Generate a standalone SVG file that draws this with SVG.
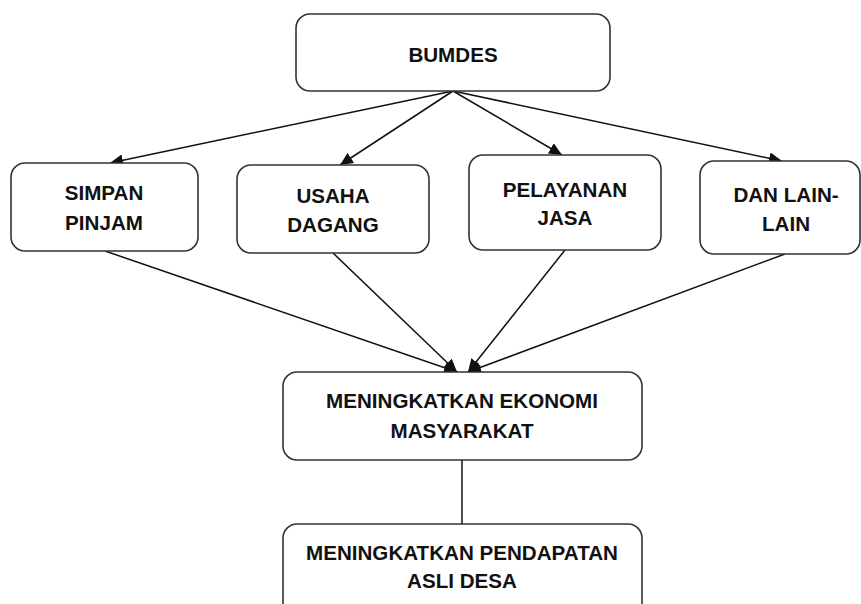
<svg xmlns="http://www.w3.org/2000/svg" width="861" height="604" viewBox="0 0 861 604">
<style>
.box{fill:#fff;stroke:#333;stroke-width:1.6}
.lbl{font-family:"Liberation Sans",Arial,sans-serif;font-weight:bold;font-size:20.6px;fill:#111;text-anchor:middle}
.edge{stroke:#111;stroke-width:1.5;fill:none}
</style>
<defs>
<marker id="ah" markerUnits="userSpaceOnUse" markerWidth="14" markerHeight="12" refX="13" refY="6" orient="auto">
<path d="M0,0 L13,6 L0,12 Z" fill="#111"/>
</marker>
</defs>
<rect width="861" height="604" fill="#fff"/>
<g id="connectors">
<line class="edge" x1="453" y1="91" x2="110" y2="163" marker-end="url(#ah)"/>
<line class="edge" x1="453" y1="91" x2="340" y2="165" marker-end="url(#ah)"/>
<line class="edge" x1="453" y1="91" x2="562" y2="155" marker-end="url(#ah)"/>
<line class="edge" x1="453" y1="91" x2="782" y2="161" marker-end="url(#ah)"/>
<line class="edge" x1="105" y1="251" x2="457" y2="372" marker-end="url(#ah)"/>
<line class="edge" x1="333" y1="253" x2="457" y2="372" marker-end="url(#ah)"/>
<line class="edge" x1="565" y1="250" x2="468" y2="372" marker-end="url(#ah)"/>
<line class="edge" x1="785" y1="254" x2="468" y2="372" marker-end="url(#ah)"/>
<line class="edge" x1="462" y1="460" x2="462" y2="524"/>
</g>
<g id="bumdes">
<rect class="box" x="296" y="14" width="314" height="77" rx="14"/>
<text class="lbl" x="453" y="62">BUMDES</text>
</g>
<g id="simpan-pinjam">
<rect class="box" x="11" y="163" width="187" height="88" rx="14"/>
<text class="lbl" x="104" y="200">SIMPAN</text>
<text class="lbl" x="104" y="230">PINJAM</text>
</g>
<g id="usaha-dagang">
<rect class="box" x="237" y="165" width="192" height="88" rx="14"/>
<text class="lbl" x="333" y="203">USAHA</text>
<text class="lbl" x="333" y="232">DAGANG</text>
</g>
<g id="pelayanan-jasa">
<rect class="box" x="469" y="155" width="192" height="95" rx="14"/>
<text class="lbl" x="565" y="197">PELAYANAN</text>
<text class="lbl" x="565" y="225">JASA</text>
</g>
<g id="dan-lain-lain">
<rect class="box" x="700" y="161" width="160" height="93" rx="14"/>
<text class="lbl" x="786" y="202">DAN LAIN-</text>
<text class="lbl" x="786" y="231">LAIN</text>
</g>
<g id="meningkatkan-ekonomi">
<rect class="box" x="283" y="372" width="359" height="88" rx="14"/>
<text class="lbl" x="462" y="408">MENINGKATKAN EKONOMI</text>
<text class="lbl" x="462" y="438">MASYARAKAT</text>
</g>
<g id="meningkatkan-pendapatan">
<rect class="box" x="283" y="524" width="359" height="100" rx="14"/>
<text class="lbl" x="462" y="560">MENINGKATKAN PENDAPATAN</text>
<text class="lbl" x="462" y="588">ASLI DESA</text>
</g>
</svg>
